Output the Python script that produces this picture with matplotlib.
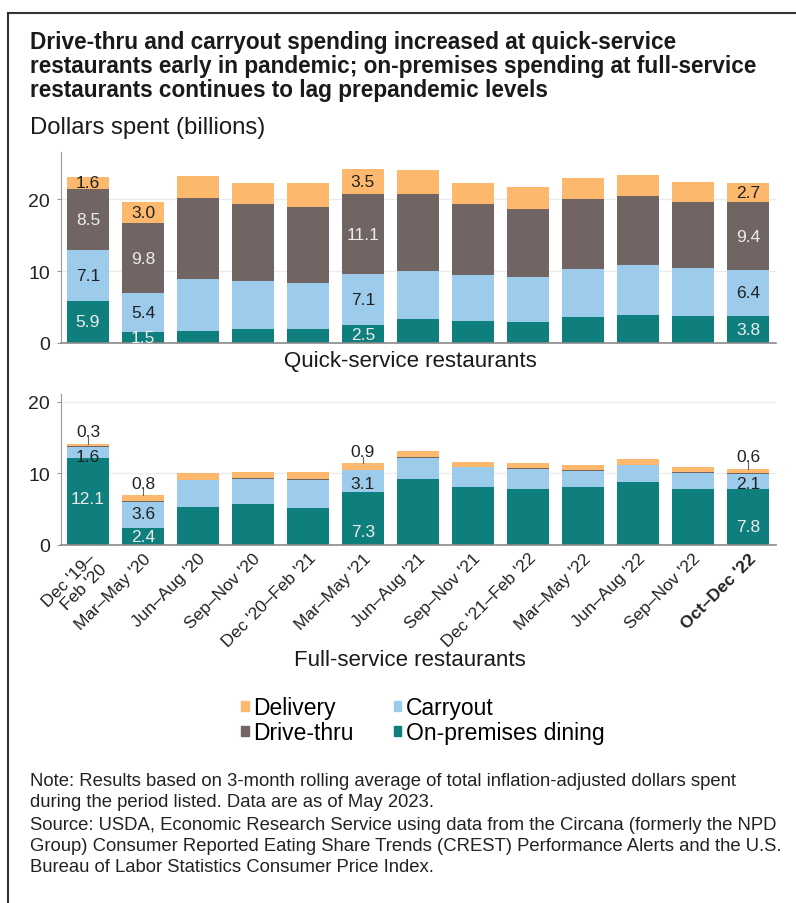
import matplotlib
matplotlib.use("Agg")
import matplotlib.pyplot as plt
from matplotlib.patches import Patch
from matplotlib.lines import Line2D
import numpy as np

periods = ["Dec '19–\nFeb '20", "Mar–May '20", "Jun–Aug '20", "Sep–Nov '20",
           "Dec '20–Feb '21", "Mar–May '21", "Jun–Aug '21", "Sep–Nov '21",
           "Dec '21–Feb '22", "Mar–May '22", "Jun–Aug '22", "Sep–Nov '22",
           "Oct–Dec '22"]

# quick-service restaurants, billions of dollars
qs_onprem = [5.9, 1.5, 1.7, 2.0, 1.9, 2.5, 3.3, 3.1, 2.9, 3.6, 3.9, 3.8, 3.8]
qs_carry = [7.1, 5.4, 7.2, 6.7, 6.5, 7.1, 6.7, 6.4, 6.3, 6.7, 7.0, 6.6, 6.4]
qs_drive = [8.5, 9.8, 11.3, 10.6, 10.5, 11.1, 10.7, 9.8, 9.4, 9.7, 9.6, 9.2, 9.4]
qs_deliv = [1.6, 3.0, 3.1, 3.0, 3.4, 3.5, 3.4, 3.0, 3.1, 3.0, 2.9, 2.8, 2.7]

# full-service restaurants
fs_onprem = [12.1, 2.4, 5.3, 5.7, 5.2, 7.3, 9.2, 8.0, 7.8, 8.0, 8.7, 7.8, 7.8]
fs_carry = [1.6, 3.6, 3.7, 3.5, 3.9, 3.1, 2.9, 2.8, 2.8, 2.3, 2.4, 2.2, 2.1]
fs_drive = [0.1, 0.1, 0.1, 0.1, 0.1, 0.1, 0.1, 0.1, 0.1, 0.1, 0.1, 0.1, 0.1]
fs_deliv = [0.3, 0.8, 0.9, 0.8, 0.9, 0.9, 0.9, 0.6, 0.7, 0.7, 0.8, 0.7, 0.6]

labeled = [0, 1, 5, 12]

C_DELIV = "#fcb96e"
C_CARRY = "#9dcbeb"
C_DRIVE = "#706563"
C_ONPREM = "#0f7f7d"
LIGHT_TXT = "#ececec"
DARK_TXT = "#222222"

FONT = ["Liberation Sans", "DejaVu Sans"]
plt.rcParams["font.family"] = FONT

W, H = 796, 904
fig = plt.figure(figsize=(W / 100, H / 100), dpi=100)


def fx(px):
    return px / W


def fy(py):
    return 1 - py / H


def style_axes(ax, ytop):
    ax.set_xlim(-0.49, 12.51)
    ax.set_ylim(0, ytop)
    ax.set_yticks([0, 10, 20])
    ax.set_axisbelow(True)
    ax.grid(axis="y", color="#ebebeb", lw=1)
    for s in ["top", "right"]:
        ax.spines[s].set_visible(False)
    ax.spines["left"].set_color("#9a9a9a")
    ax.spines["bottom"].set_color("#8a8a8a")
    ax.spines["bottom"].set_linewidth(1.2)
    ax.tick_params(axis="y", length=3, color="#9a9a9a", labelsize=14,
                   labelcolor="#222222", pad=5)


def stacked(ax, series, colors):
    x = np.arange(len(periods))
    bottom = np.zeros(len(periods))
    for vals, col in zip(series, colors):
        ax.bar(x, vals, 0.78, bottom=bottom, color=col, lw=0)
        bottom = bottom + np.array(vals)
    return x


# top panel: quick-service
ax1 = fig.add_axes([fx(61), fy(344), fx(715), (344 - 153) / H])
x = stacked(ax1, [qs_onprem, qs_carry, qs_drive, qs_deliv],
            [C_ONPREM, C_CARRY, C_DRIVE, C_DELIV])
style_axes(ax1, 26.6)
ax1.set_xticks(x)
ax1.tick_params(axis="x", length=0, labelbottom=False)

for i in labeled:
    b = 0
    for vals, tc in zip([qs_onprem, qs_carry, qs_drive, qs_deliv],
                        [LIGHT_TXT, DARK_TXT, LIGHT_TXT, DARK_TXT]):
        v = vals[i]
        ax1.text(i, b + v / 2, f"{v:.1f}", ha="center", va="center",
                 color=tc, fontsize=12.5)
        b += v

# bottom panel: full-service
ax2 = fig.add_axes([fx(61), fy(545.7), fx(715), (545.7 - 395) / H])
x = stacked(ax2, [fs_onprem, fs_carry, fs_drive, fs_deliv],
            [C_ONPREM, C_CARRY, C_DRIVE, C_DELIV])
style_axes(ax2, 21.07)
ax2.set_xticks(x)
ax2.set_xticklabels(periods, rotation=45, ha="right", va="top",
                    rotation_mode="anchor", fontsize=12.5,
                    color="#222222", linespacing=1.0)
ax2.tick_params(axis="x", length=0, pad=4)
ax2.get_xticklabels()[-1].set_fontweight("bold")

# label heights inside / above the full-service bars
onprem_y = {0: 6.5, 1: 1.2, 5: 1.8, 12: 2.6}
carry_y = {0: 12.4, 1: 4.3, 5: 8.6, 12: 8.6}
for i in labeled:
    ax2.text(i, onprem_y[i], f"{fs_onprem[i]:.1f}", ha="center", va="center",
             color=LIGHT_TXT, fontsize=12.5)
    ax2.text(i, carry_y[i], f"{fs_carry[i]:.1f}", ha="center", va="center",
             color=DARK_TXT, fontsize=12.5)
    top = fs_onprem[i] + fs_carry[i] + fs_drive[i] + fs_deliv[i]
    ax2.plot([i, i], [top, top + 0.9], color="#666666", lw=0.8)
    ax2.text(i, top + 1.7, f"{fs_deliv[i]:.1f}", ha="center", va="center",
             color=DARK_TXT, fontsize=12.5)

# titles and text
title = ["Drive-thru and carryout spending increased at quick-service",
         "restaurants early in pandemic; on-premises spending at full-service",
         "restaurants continues to lag prepandemic levels"]
for k, line in enumerate(title):
    fig.text(fx(30), fy(42 + 24 * k), line, ha="left", va="center",
             fontsize=16.3, fontweight="bold", color="#1a1a1a")
fig.text(fx(30), fy(128), "Dollars spent (billions)", ha="left", va="center",
         fontsize=17.2, color="#1a1a1a")
fig.text(fx(410), fy(362), "Quick-service restaurants", ha="center",
         va="center", fontsize=16, color="#1a1a1a")
fig.text(fx(410), fy(660), "Full-service restaurants", ha="center",
         va="center", fontsize=16, color="#1a1a1a")

handles = [Patch(color=C_DELIV), Patch(color=C_DRIVE),
           Patch(color=C_CARRY), Patch(color=C_ONPREM)]
names = ["Delivery", "Drive-thru", "Carryout", "On-premises dining"]
fig.legend(handles, names, ncol=2, loc="upper left",
           bbox_to_anchor=(fx(232), fy(688)), frameon=False,
           prop={"size": 16.5},
           handlelength=0.33, handleheight=0.33, handletextpad=0.2,
           columnspacing=1.75, labelspacing=0.08, borderaxespad=0)

notes = ["Note: Results based on 3-month rolling average of total inflation-adjusted dollars spent",
         "during the period listed. Data are as of May 2023."]
source = ["Source: USDA, Economic Research Service using data from the Circana (formerly the NPD",
          "Group) Consumer Reported Eating Share Trends (CREST) Performance Alerts and the U.S.",
          "Bureau of Labor Statistics Consumer Price Index."]
for k, line in enumerate(notes):
    fig.text(fx(30), fy(782 + 21 * k), line, ha="left", va="center",
             fontsize=13.3, color="#222222")
for k, line in enumerate(source):
    fig.text(fx(30), fy(826 + 21 * k), line, ha="left", va="center",
             fontsize=13.3, color="#222222")

# frame lines on the left and top
fig.add_artist(Line2D([fx(8), fx(8)], [fy(14), 0], color="#333333", lw=1.5,
                      transform=fig.transFigure))
fig.add_artist(Line2D([fx(8), 1], [fy(14), fy(14)], color="#333333", lw=1.5,
                      transform=fig.transFigure))

fig.savefig("out.png", dpi=100)
